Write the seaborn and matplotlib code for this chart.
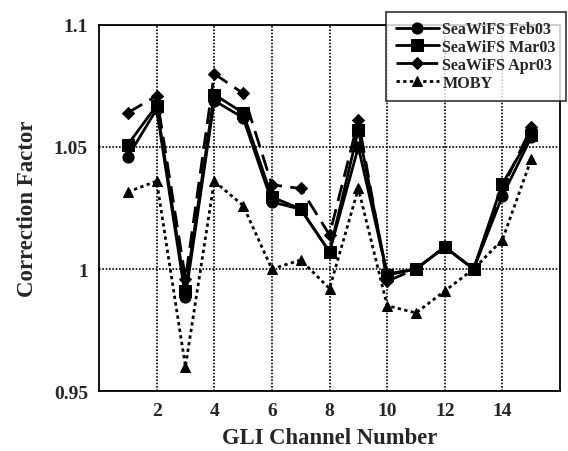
import matplotlib
matplotlib.use("Agg")
import matplotlib.pyplot as plt
import seaborn as sns
import pandas as pd

channels = list(range(1, 16))
feb03 = [1.046, 1.0655, 0.9885, 1.069, 1.062, 1.0275, 1.0245, 1.007, 1.050, 0.998, 1.000, 1.009, 1.000, 1.030, 1.054]
mar03 = [1.051, 1.067, 0.991, 1.0715, 1.064, 1.0295, 1.0246, 1.007, 1.057, 0.9975, 1.000, 1.009, 1.000, 1.035, 1.055]
apr03 = [1.064, 1.071, 0.996, 1.080, 1.072, 1.0345, 1.033, 1.014, 1.061, 0.995, 1.000, 1.009, 1.000, 1.033, 1.058]
moby = [1.0316, 1.036, 0.960, 1.036, 1.026, 1.000, 1.0037, 0.992, 1.033, 0.985, 0.982, 0.991, 1.000, 1.012, 1.045]
series_names = ["SeaWiFS Feb03", "SeaWiFS Mar03", "SeaWiFS Apr03", "MOBY"]
y_ticks = [0.95, 1.0, 1.05, 1.1]
y_tick_labels = ["0.95", "1", "1.05", "1.1"]
x_ticks = [2, 4, 6, 8, 10, 12, 14]

sns.set_style("white")
plt.rcParams["font.family"] = ["Liberation Serif", "DejaVu Serif"]
plt.rcParams["font.weight"] = "bold"

rows = []
for name, vals in zip(series_names, [feb03, mar03, apr03, moby]):
    for c, v in zip(channels, vals):
        rows.append({"Channel": c, "Value": v, "Series": name})
df = pd.DataFrame(rows)

fig = plt.figure(figsize=(5.68, 4.52), dpi=100)
ax = fig.add_axes([0.1743, 0.1327, 0.8117, 0.8098])

styles = {
    "SeaWiFS Feb03": dict(marker="o", ls="-", ms=8),
    "SeaWiFS Mar03": dict(marker="s", ls="-", ms=8),
    "SeaWiFS Apr03": dict(marker="D", ls=(0, (6, 3)), ms=6),
    "MOBY": dict(marker="^", ls=(0, (1.2, 1.2)), ms=7),
}
for name in series_names:
    st = styles[name]
    sns.lineplot(data=df[df["Series"] == name], x="Channel", y="Value", ax=ax,
                 color="black", lw=2, marker=st["marker"], markersize=st["ms"],
                 markeredgecolor="black", markerfacecolor="black",
                 linestyle=st["ls"], label=name, legend=False, zorder=3)

ax.set_xlim(0, 16)
ax.set_ylim(0.95, 1.1)
ax.set_xticks(x_ticks)
ax.set_xticklabels([str(t) for t in x_ticks], fontsize=14, fontweight="bold")
ax.set_yticks(y_ticks)
ax.set_yticklabels(y_tick_labels, fontsize=14, fontweight="bold")
ax.tick_params(direction="in", length=4, width=1, color="black", pad=8)
ax.grid(True, color="black", linestyle=(0, (1, 1)), linewidth=1.2)
for sp in ax.spines.values():
    sp.set_color("black")
    sp.set_linewidth(1.3)
ax.set_xlabel("GLI Channel Number", fontsize=16.3, fontweight="bold", labelpad=6)
ax.set_ylabel("Correction Factor", fontsize=16.5, fontweight="bold", labelpad=11)

leg = ax.legend(loc="upper left", bbox_to_anchor=(386 / 568, 1 - 12.5 / 452),
                bbox_transform=fig.transFigure, frameon=True, fancybox=False,
                edgecolor="black", handlelength=2.7,
                handletextpad=0.2, borderpad=0.6, labelspacing=0.12,
                borderaxespad=0, prop={"weight": "bold", "size": 11.6})
leg.get_frame().set_linewidth(1.2)
leg.set_zorder(5)

fig.savefig("out.png", dpi=100)
